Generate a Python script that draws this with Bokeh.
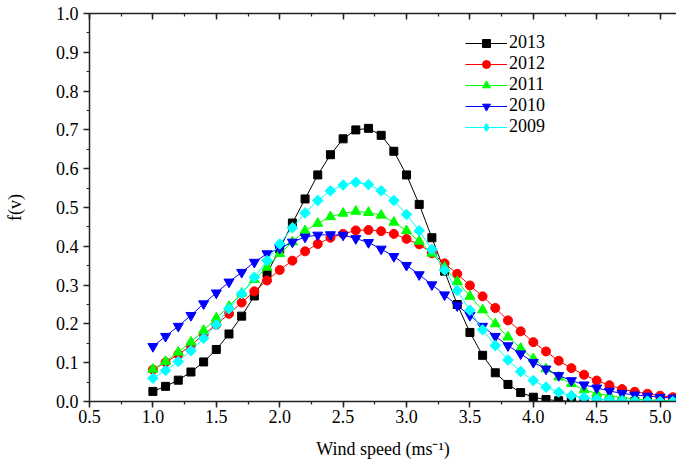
from bokeh.plotting import figure
from bokeh.models import (LinearAxis, SingleIntervalTicker, PrintfTickFormatter,
                          CustomJSTickFormatter, Legend, LegendItem, Range1d)
from bokeh.embed import file_html
from bokeh.resources import INLINE
import numpy as np

wind_speed = [1.0, 1.1, 1.2, 1.3, 1.4, 1.5, 1.6, 1.7, 1.8, 1.9,
              2.0, 2.1, 2.2, 2.3, 2.4, 2.5, 2.6, 2.7, 2.8, 2.9,
              3.0, 3.1, 3.2, 3.3, 3.4, 3.5, 3.6, 3.7, 3.8, 3.9,
              4.0, 4.1, 4.2, 4.3, 4.4, 4.5, 4.6, 4.7, 4.8, 4.9,
              5.0, 5.1]

f_2013 = [0.026, 0.039, 0.055, 0.076, 0.102, 0.134, 0.174, 0.220, 0.272, 0.330,
          0.393, 0.460, 0.522, 0.584, 0.636, 0.677, 0.700, 0.704, 0.686, 0.645,
          0.584, 0.508, 0.422, 0.336, 0.250, 0.178, 0.119, 0.074, 0.044, 0.023,
          0.011, 0.005, 0.002, 0.001, 0.0, 0.0, 0.0, 0.0, 0.0, 0.0,
          0.0, 0.0]
f_2012 = [0.082, 0.101, 0.121, 0.144, 0.173, 0.198, 0.226, 0.255, 0.284, 0.312,
          0.339, 0.363, 0.387, 0.406, 0.422, 0.432, 0.441, 0.442, 0.439, 0.432,
          0.419, 0.405, 0.382, 0.356, 0.329, 0.299, 0.271, 0.241, 0.209, 0.181,
          0.153, 0.129, 0.105, 0.086, 0.069, 0.054, 0.042, 0.032, 0.025, 0.020,
          0.015, 0.011]
f_2011 = [0.083, 0.103, 0.127, 0.153, 0.183, 0.215, 0.245, 0.279, 0.314, 0.346,
          0.381, 0.411, 0.440, 0.459, 0.476, 0.485, 0.490, 0.487, 0.480, 0.462,
          0.440, 0.413, 0.382, 0.346, 0.309, 0.271, 0.236, 0.200, 0.166, 0.137,
          0.110, 0.084, 0.063, 0.046, 0.030, 0.021, 0.015, 0.010, 0.007, 0.004,
          0.003, 0.002]
f_2010 = [0.142, 0.168, 0.194, 0.222, 0.252, 0.280, 0.308, 0.333, 0.359, 0.381,
          0.395, 0.411, 0.424, 0.429, 0.430, 0.429, 0.420, 0.410, 0.393, 0.374,
          0.351, 0.327, 0.301, 0.275, 0.247, 0.222, 0.194, 0.168, 0.144, 0.123,
          0.101, 0.084, 0.067, 0.054, 0.043, 0.035, 0.027, 0.021, 0.017, 0.014,
          0.011, 0.009]
f_2009 = [0.060, 0.080, 0.103, 0.131, 0.163, 0.198, 0.239, 0.278, 0.320, 0.363,
          0.406, 0.448, 0.486, 0.518, 0.543, 0.558, 0.565, 0.559, 0.543, 0.518,
          0.482, 0.440, 0.392, 0.339, 0.286, 0.235, 0.185, 0.144, 0.107, 0.077,
          0.054, 0.037, 0.024, 0.015, 0.010, 0.006, 0.004, 0.002, 0.001, 0.001,
          0.0, 0.0]

years = ["2013", "2012", "2011", "2010", "2009"]
series = [f_2013, f_2012, f_2011, f_2010, f_2009]
colors = ["#000000", "#ff0000", "#00ff00", "#0000ff", "#00ffff"]
markers = ["square", "circle", "triangle", "inverted_triangle", "square"]
sizes = [8, 9, 10, 10, 7.5]
angles = [0, 0, 0, 0, np.pi / 4]

FONT = "serif"
FS = "18px"

p = figure(width=676, height=465, output_backend="svg", toolbar_location=None,
           x_range=Range1d(0.5, 5.129), y_range=Range1d(0.0, 1.0),
           x_axis_location=None, y_axis_location=None,
           min_border_left=89, min_border_right=0, min_border_top=13,
           min_border_bottom=64)
p.outline_line_color = None
p.xgrid.visible = False
p.ygrid.visible = False
p.background_fill_color = "white"

def style_axis(ax):
    ax.axis_line_color = "#222222"
    ax.axis_line_width = 1.5
    ax.major_tick_line_color = "#222222"
    ax.minor_tick_line_color = "#222222"
    ax.major_tick_line_width = 1.5
    ax.minor_tick_line_width = 1.2
    ax.major_label_text_font = FONT
    ax.major_label_text_font_size = FS
    ax.major_label_text_color = "black"
    ax.axis_label_text_font = FONT
    ax.axis_label_text_font_size = FS
    ax.axis_label_text_font_style = "normal"
    ax.axis_label_text_color = "black"

xticker = SingleIntervalTicker(interval=0.5, num_minor_ticks=2)
yticker = SingleIntervalTicker(interval=0.1, num_minor_ticks=2)

xb = LinearAxis(ticker=xticker, formatter=PrintfTickFormatter(format="%.1f"),
                axis_label="Wind speed (ms\u207b\u00b9)")
style_axis(xb)
xb.major_tick_out = 6
xb.major_tick_in = 0
xb.minor_tick_out = 3
xb.minor_tick_in = 0
xb.major_label_standoff = 2
xb.axis_label_standoff = 13
p.add_layout(xb, "below")

yl = LinearAxis(ticker=yticker, formatter=PrintfTickFormatter(format="%.1f"),
                axis_label="f(v)")
style_axis(yl)
yl.major_tick_out = 6
yl.major_tick_in = 0
yl.minor_tick_out = 3
yl.minor_tick_in = 0
yl.major_label_standoff = 5
yl.axis_label_standoff = 28
p.add_layout(yl, "left")

xt = LinearAxis(ticker=SingleIntervalTicker(interval=0.5, num_minor_ticks=2),
                formatter=CustomJSTickFormatter(code="return ''"))
style_axis(xt)
xt.major_tick_out = 0
xt.major_tick_in = 6
xt.minor_tick_out = 0
xt.minor_tick_in = 3
xt.major_label_standoff = 0
p.add_layout(xt, "above")

items = []
for yr, vals, c, m, s, a in zip(years, series, colors, markers, sizes, angles):
    ln = p.line(wind_speed, vals, line_color=c, line_width=1)
    sc = p.scatter(wind_speed, vals, marker=m, size=s, angle=a,
                   fill_color=c, line_color=c)
    if a != 0:
        # legend-only glyph: same diamond look as the rotated squares
        key = p.scatter([np.nan], [np.nan], marker="diamond", size=11,
                        fill_color=c, line_color=c)
        items.append(LegendItem(label=yr, renderers=[ln, key]))
    else:
        items.append(LegendItem(label=yr, renderers=[ln, sc]))

legend = Legend(items=items, location=(376, 264), orientation="vertical",
                glyph_width=42, glyph_height=20, label_height=20,
                label_standoff=2, spacing=0, padding=0, margin=0,
                border_line_color=None, background_fill_alpha=0,
                label_text_font=FONT, label_text_font_size=FS,
                label_text_color="black")
p.add_layout(legend, "center")

open("out.html", "w").write(file_html(p, INLINE))
